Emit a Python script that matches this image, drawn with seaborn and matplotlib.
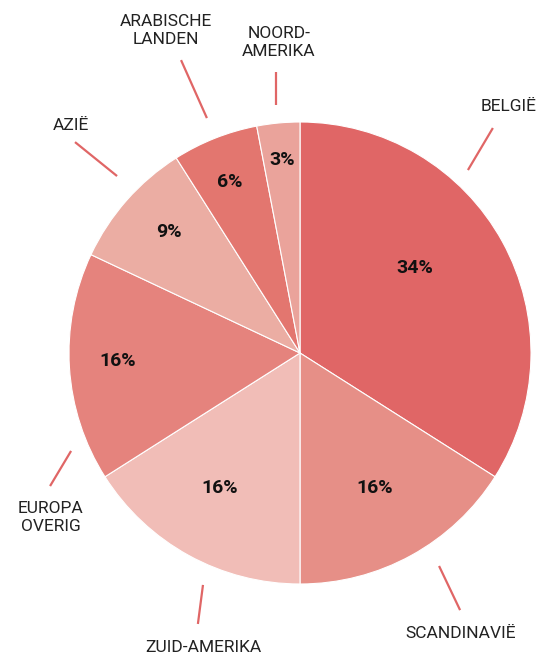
import numpy as np
import seaborn as sns
import matplotlib.pyplot as plt

sns.set_theme(style='white')
plt.rcParams['font.family'] = ['Roboto', 'DejaVu Sans']

# Data
regions = ['BELGIË', 'SCANDINAVIË', 'ZUID-AMERIKA', 'EUROPA\nOVERIG', 'AZIË',
           'ARABISCHE\nLANDEN', 'NOORD-\nAMERIKA']
shares = [34, 16, 16, 16, 9, 6, 3]
colors = ['#e06666', '#e68f87', '#f1bdb7', '#e5837d', '#ebada3', '#e3766f', '#eaa39b']

# layout of the labels (in units of the pie radius)
pct_radius = [0.62, 0.67, 0.68, 0.79, 0.77, 0.80, 0.84]
pct_shift = [7.7, 0.2, -1.8, -1.1, -1.3, 0.8, -0.1]
leader = [((0.727, 0.792), (0.835, 0.974)),
          ((0.602, -0.922), (0.693, -1.113)),
          ((-0.420, -1.004), (-0.442, -1.173)),
          ((-0.991, -0.424), (-1.082, -0.576)),
          ((-0.792, 0.766), (-0.974, 0.913)),
          ((-0.403, 1.017), (-0.515, 1.268)),
          ((-0.104, 1.074), (-0.104, 1.216))]
label_xy = [(0.905, 1.069), (0.697, -1.216), (-0.42, -1.277), (-1.078, -0.71),
            (-0.991, 0.987), (-0.58, 1.398), (-0.091, 1.346)]

fig = plt.figure(figsize=(5.37, 6.59), dpi=100)
ax = fig.add_axes([0, 0, 1, 1])

wedges, _ = ax.pie(shares, colors=colors, startangle=90, counterclock=False,
                   radius=1.0, wedgeprops=dict(edgecolor='white', linewidth=0.8))

for w, s, r, d in zip(wedges, shares, pct_radius, pct_shift):
    mid = np.deg2rad((w.theta1 + w.theta2) / 2 + d)
    ax.text(r * np.cos(mid), r * np.sin(mid), f'{s}%', ha='center', va='center',
            fontsize=14, fontweight='bold', color='#111111')

for (x0, y0), (x1, y1) in leader:
    ax.plot([x0, x1], [y0, y1], color='#e06666', lw=1.6, solid_capstyle='butt')

for name, (x, y) in zip(regions, label_xy):
    ax.text(x, y, name, ha='center', va='center', fontsize=12.5,
            color='#222222', linespacing=1.25)

px = 231
ax.set_xlim(-300 / px, (537 - 300) / px)
ax.set_ylim(-(659 - 353) / px, 353 / px)
ax.set_aspect('auto')
ax.axis('off')

fig.savefig('out.png', dpi=100)
